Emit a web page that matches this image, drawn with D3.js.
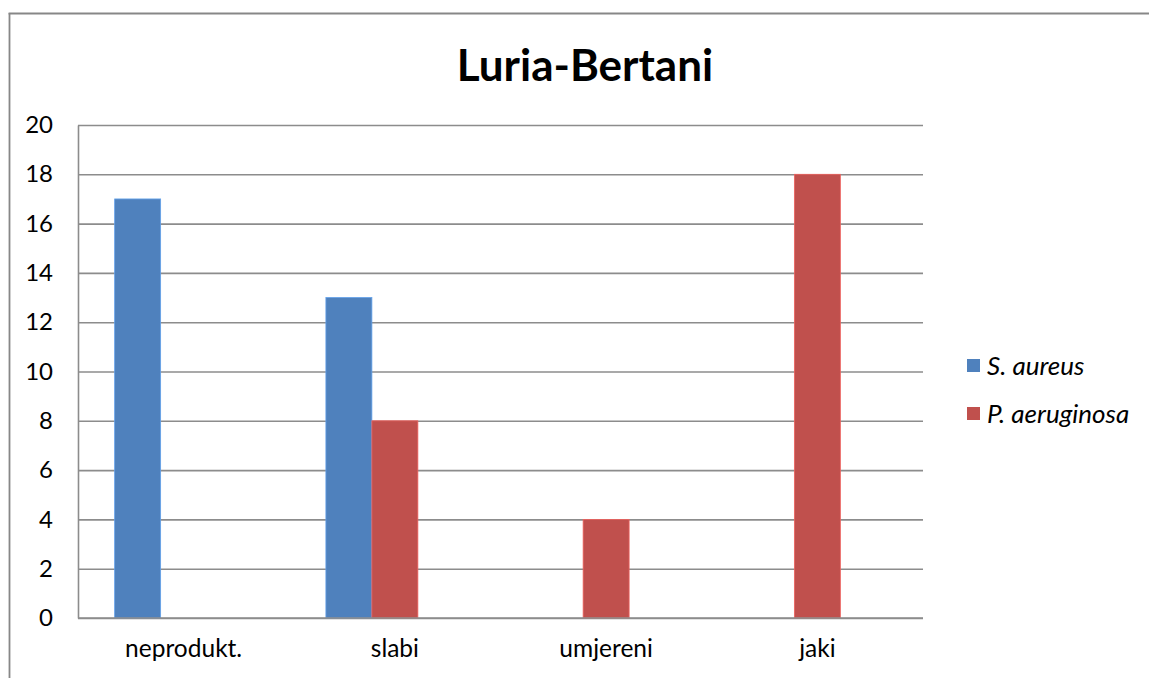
<!DOCTYPE html>
<html>
<head>
<meta charset="utf-8">
<script src="https://cdn.jsdelivr.net/npm/d3@7/dist/d3.min.js"></script>
<style>
  html, body { margin: 0; padding: 0; background: #fff; overflow: hidden; }
  svg { display: block; }
  text { font-family: Lato, "Open Sans", sans-serif; fill: #000; }
</style>
</head>
<body>
<svg id="chart" width="1149" height="678"></svg>
<script>
const title = "Luria-Bertani";
const categories = ["neprodukt.", "slabi", "umjereni", "jaki"];
const seriesNames = ["S. aureus", "P. aeruginosa"];
const seriesColors = ["#4F81BD", "#C0504D"];
const sAureus = [17, 13, 0, 0];
const pAeruginosa = [0, 8, 4, 18];
const seriesValues = [sAureus, pAeruginosa];
const slotCount = 3; // the original chart reserves a third (empty) bar slot per category
const yTicks = [0, 2, 4, 6, 8, 10, 12, 14, 16, 18, 20];

const svg = d3.select("#chart");
const W = 1149, H = 678;
const plot = { left: 78, right: 923, top: 125, bottom: 618 };

// outer frame: only left and top edges are visible in the reference
svg.append("line").attr("x1", 9.5).attr("x2", 9.5).attr("y1", 13).attr("y2", H)
  .attr("stroke", "#878787").attr("stroke-width", 1.8);
svg.append("line").attr("x1", 8.6).attr("x2", W).attr("y1", 13.5).attr("y2", 13.5)
  .attr("stroke", "#878787").attr("stroke-width", 1.8);

const y = d3.scaleLinear().domain([0, 20]).range([plot.bottom, plot.top]);
const pi = 0.347;
const x0 = d3.scaleBand().domain(categories).range([plot.left, plot.right])
  .paddingInner(pi).paddingOuter(pi / 2);
const x1 = d3.scaleBand().domain(d3.range(slotCount)).range([0, x0.bandwidth()]);

// gridlines
const gridG = svg.append("g").attr("transform", `translate(${plot.left},0)`)
  .call(d3.axisLeft(y).tickValues(yTicks).tickSize(-(plot.right - plot.left)).tickFormat(""));
gridG.select(".domain").remove();
gridG.selectAll(".tick line").attr("stroke", "#8c8c8c").attr("stroke-width", 1.6);

// bars
seriesValues.forEach((vals, si) => {
  svg.append("g").selectAll("rect")
    .data(vals.map((v, i) => ({ c: categories[i], v })).filter(d => d.v > 0))
    .join("rect")
    .attr("x", d => x0(d.c) + x1(si))
    .attr("y", d => y(d.v))
    .attr("width", x1.bandwidth())
    .attr("height", d => y(0) - y(d.v))
    .attr("fill", seriesColors[si])
    .attr("stroke", d3.color(seriesColors[si]).brighter(0.6))
    .attr("stroke-width", 0.8);
});

// y axis (labels + vertical line)
const yAxisG = svg.append("g").attr("transform", `translate(${plot.left},0)`)
  .call(d3.axisLeft(y).tickValues(yTicks).tickSize(0).tickPadding(25).tickFormat(d3.format("d")));
yAxisG.select(".domain").attr("stroke", "#8c8c8c").attr("stroke-width", 1.6);
yAxisG.selectAll(".tick text").style("font-size", "24px").style("font-family", "Lato, sans-serif").attr("fill", "#000");

// x axis
const xAxisG = svg.append("g").attr("transform", `translate(0,${plot.bottom})`)
  .call(d3.axisBottom(x0).tickSize(0).tickPadding(22).tickSizeOuter(0));
xAxisG.select(".domain").attr("stroke", "#8c8c8c").attr("stroke-width", 1.6)
  .attr("d", `M${plot.left},0H${plot.right}`);
xAxisG.selectAll(".tick text")
  .style("font-size", "24.5px").style("font-family", "Lato, sans-serif").attr("fill", "#000");

// title
svg.append("text").attr("x", 585).attr("y", 81).attr("text-anchor", "middle")
  .style("font-size", "44px").style("font-weight", "bold").text(title);

// legend
const legend = svg.append("g");
seriesNames.forEach((name, i) => {
  const cy = 366 + i * 48;
  legend.append("rect").attr("x", 967).attr("y", cy - 7).attr("width", 13).attr("height", 13)
    .attr("fill", seriesColors[i]);
  legend.append("text").attr("x", 987).attr("y", cy).attr("dy", "0.35em")
    .style("font-size", "26px").style("font-style", "italic").text(name);
});
</script>
</body>
</html>
